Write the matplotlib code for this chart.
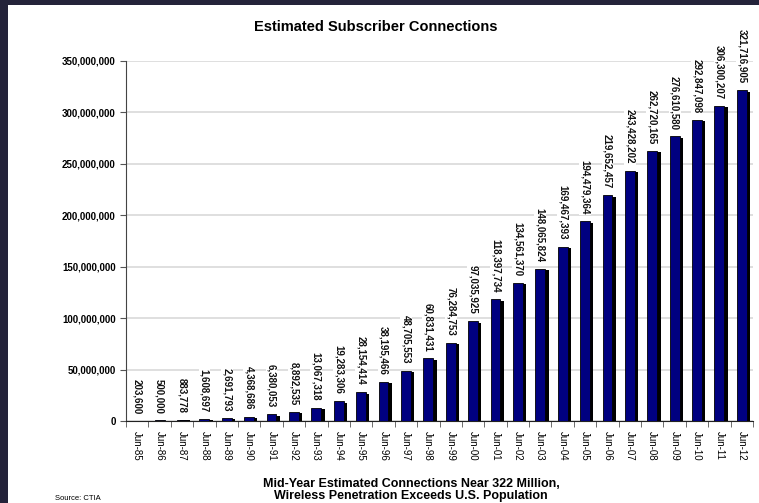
import numpy as np
import matplotlib.pyplot as plt
from matplotlib.patches import Rectangle
from matplotlib.ticker import FuncFormatter, MultipleLocator

plt.rcParams['font.family'] = ['Liberation Sans', 'DejaVu Sans']

# Mid-year estimated subscriber connections (CTIA)
years = ['Jun-85', 'Jun-86', 'Jun-87', 'Jun-88', 'Jun-89', 'Jun-90', 'Jun-91',
         'Jun-92', 'Jun-93', 'Jun-94', 'Jun-95', 'Jun-96', 'Jun-97', 'Jun-98',
         'Jun-99', 'Jun-00', 'Jun-01', 'Jun-02', 'Jun-03', 'Jun-04', 'Jun-05',
         'Jun-06', 'Jun-07', 'Jun-08', 'Jun-09', 'Jun-10', 'Jun-11', 'Jun-12']
subscribers = [203600, 500000, 883778, 1608697, 2691793, 4368686, 6380053,
               8892535, 13067318, 19283306, 28154414, 38195466, 48705553, 60831431,
               76284753, 97035925, 118397734, 134561370, 148065824, 169467393, 194479364,
               219652457, 243428202, 262720165, 276610580, 292847098, 306300207, 321716905]

fig = plt.figure(figsize=(7.59, 5.03), dpi=100)
fig.patch.set_facecolor('#24233a')
# white slide panel behind everything
fig.patches.append(Rectangle((8 / 759, 0), 1, 1 - 5 / 503, transform=fig.transFigure,
                             facecolor='white', edgecolor='none', zorder=-10))

ax = fig.add_axes([126 / 759, 82 / 503, 627 / 759, 360 / 503])
ax.set_facecolor('white')

x = np.arange(len(years))
vals = np.array(subscribers)

# black "3d" shadow, then the navy bar
shadow_h = np.maximum(vals - 1.5e6, vals * 0.6)
ax.bar(x + 0.15, shadow_h, width=0.44, color='black', zorder=2)
ax.bar(x, vals, width=0.44, color='#000080', edgecolor='black', linewidth=0.6, zorder=3)

for xi, v in zip(x, vals):
    ax.annotate(f'{v:,}', (xi, v), xytext=(0, 5), textcoords='offset points',
                rotation=270, ha='center', va='bottom', fontsize=7, fontweight='bold',
                color='#111111', zorder=4,
                bbox=dict(facecolor='white', edgecolor='none', pad=0.6))

ax.set_ylim(0, 350e6)
ax.set_xlim(-0.5, len(years) - 0.5)
ax.yaxis.set_major_locator(MultipleLocator(50e6))
ax.yaxis.set_major_formatter(FuncFormatter(lambda v, p: f'{int(v):,}'))
ax.grid(axis='y', color='#d9d9d9', linewidth=1.2, zorder=0)
ax.set_axisbelow(True)

ax.set_xticks(x)
ax.set_xticklabels(years, rotation=270, fontsize=7)
ax.set_xticks(np.arange(-0.5, len(years)), minor=True)
ax.tick_params(axis='x', which='major', length=0, pad=7)
ax.tick_params(axis='x', which='minor', length=4, color='#555555', direction='out')
ax.tick_params(axis='y', length=4, color='#555555', labelsize=7)
for t in ax.get_yticklabels():
    t.set_fontweight('bold')

for s in ['top', 'right']:
    ax.spines[s].set_visible(False)
ax.spines['left'].set_color('#444444')
ax.spines['bottom'].set_color('#222222')

fig.text(376 / 759, 1 - 27 / 503, 'Estimated Subscriber Connections', ha='center', va='center',
         fontsize=10.5, fontweight='bold')
fig.text(411 / 759, 1 - 490 / 503,
         'Mid-Year Estimated Connections Near 322 Million,\nWireless Penetration Exceeds U.S. Population',
         ha='center', va='center', fontsize=9, fontweight='bold', linespacing=1.0)
fig.text(55 / 759, 1 / 503, 'Source: CTIA', ha='left', va='bottom', fontsize=5.5)

fig.savefig('out.png', dpi=100, facecolor=fig.get_facecolor())
